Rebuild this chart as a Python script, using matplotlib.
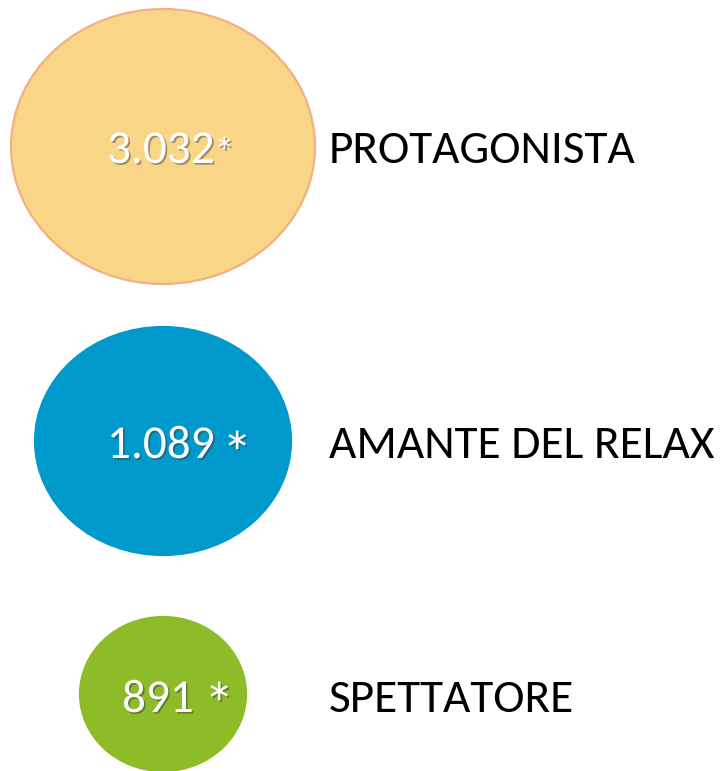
import matplotlib.pyplot as plt
from matplotlib.patches import Ellipse
import matplotlib.patheffects as pe

# Chart data
categories = ["PROTAGONISTA", "AMANTE DEL RELAX", "SPETTATORE"]
values = ["3.032", "1.089", "891"]

# Layout (pixel units of the 726x771 canvas)
center_x = 163
centers_y = [146.5, 441, 694]
widths = [304, 256, 166]
heights = [275, 228, 154]
baselines = [163, 458, 712]
value_x = [107, 107, 122]
star_x = [214, 222, 204]
star_base = [166, 474, 725]
star_size = [30, 44, 44]
fills = ["#F9D587", "#0099CC", "#8DBC28"]
edges = ["#F3B084", "#0099CC", "#8DBC28"]

plt.rcParams['font.family'] = ['Carlito', 'DejaVu Sans']

fig = plt.figure(figsize=(7.26, 7.71), dpi=100)
ax = fig.add_axes([0, 0, 1, 1])
ax.set_xlim(0, 726)
ax.set_ylim(771, 0)
ax.set_aspect('equal')
ax.axis('off')

txt_shadow = [pe.withSimplePatchShadow(offset=(1.2, -1.2), shadow_rgbFace='#333333', alpha=0.45)]

for i, cat in enumerate(categories):
    e = Ellipse((center_x, centers_y[i]), widths[i], heights[i],
                facecolor=fills[i], edgecolor=edges[i], linewidth=1.6)
    ax.add_patch(e)
    ax.text(value_x[i], baselines[i], values[i], color='white',
            fontsize=34, ha='left', va='baseline', path_effects=txt_shadow)
    ax.text(star_x[i], star_base[i], "*", color='white',
            fontsize=star_size[i], ha='left', va='baseline',
            path_effects=txt_shadow)
    ax.text(329, baselines[i], cat, color='black', fontsize=34,
            ha='left', va='baseline')

fig.savefig("out.png", dpi=100)
